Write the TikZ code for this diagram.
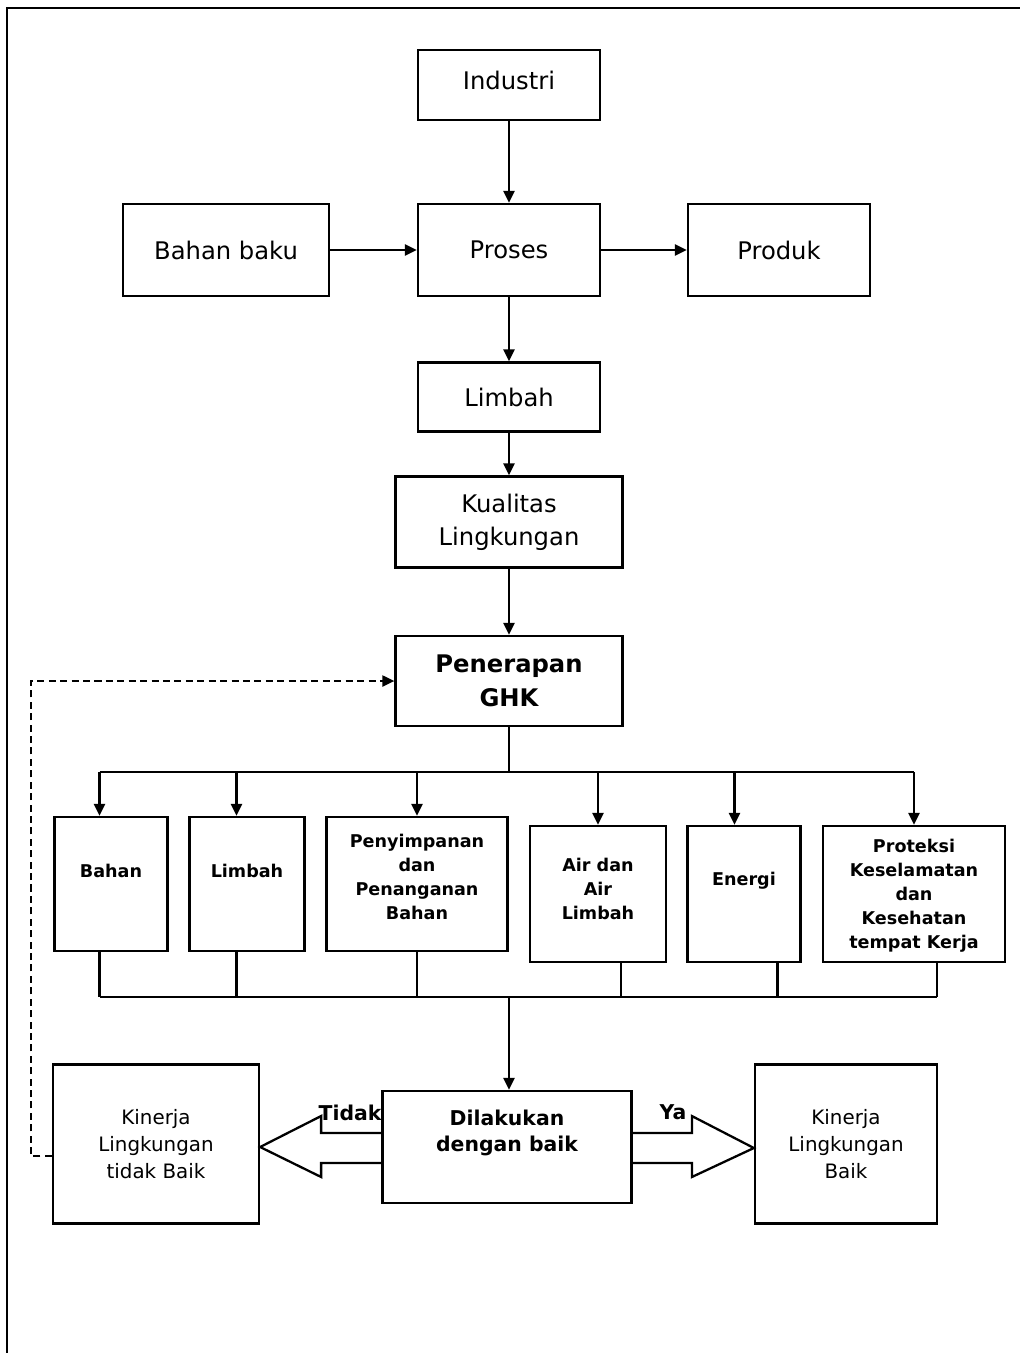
\documentclass[tikz,border=0pt]{standalone}
\usepackage{fontspec}
\setmainfont{DejaVu Sans}
\usetikzlibrary{arrows.meta}
\tikzset{
  >={Triangle[length=2.4mm,width=2.2mm]},
  kotak/.style={draw,line width=1.3pt,align=center,inner sep=2pt},
  besar/.style={kotak,font=\fontsize{13.8}{19}\selectfont},
  aspek/.style={kotak,font=\fontsize{10}{13.7}\selectfont\bfseries},
  kinerja/.style={kotak,font=\fontsize{11.3}{15.4}\selectfont,minimum height=3.18cm},
  alur/.style={->,line width=1.3pt},
  garis/.style={line width=1.3pt},
  balik/.style={->,line width=1.2pt,dash pattern=on 4pt off 2.5pt},
  ket/.style={font=\fontsize{11.6}{14.8}\selectfont\bfseries},
}

\begin{document}
\begin{tikzpicture}[x=0.02cm,y=-0.02cm]
\useasboundingbox (0,0) rectangle (1020,1353);
% frame of the page
\draw[line width=1pt] (7,1353) -- (7,8) -- (1020,8);

% ================= PROSES INDUSTRI =================
\node[besar,minimum width=3.64cm,minimum height=1.4cm,text depth=0.2cm] (ind) at (509,85) {Industri};
\node[besar,minimum width=4.12cm,minimum height=1.84cm] (baku) at (226,250) {Bahan baku};
\node[besar,minimum width=3.64cm,minimum height=1.84cm] (proses) at (509,250) {Proses};
\node[besar,minimum width=3.64cm,minimum height=1.84cm] (produk) at (779,250) {Produk};
\node[besar,minimum width=3.64cm,minimum height=1.38cm] (limbah) at (509,397) {Limbah};
\node[besar,minimum width=4.54cm,minimum height=1.82cm] (kualitas) at (509,522) {Kualitas\\Lingkungan};
\node[besar,font=\fontsize{13.8}{19}\selectfont\bfseries,minimum width=4.54cm,minimum height=1.8cm] (ghk) at (509,681) {Penerapan\\GHK};

\draw[alur] (ind) -- (proses);
\draw[alur] (baku) -- (proses);
\draw[alur] (proses) -- (produk);
\draw[alur] (proses) -- (limbah);
\draw[alur] (limbah) -- (kualitas);
\draw[alur] (kualitas) -- (ghk);

% ================= ASPEK GHK =================
\node[aspek,minimum width=2.26cm,minimum height=2.68cm,text depth=0.52cm] (bahan) at (111,884) {Bahan};
\node[aspek,minimum width=2.3cm,minimum height=2.68cm,text depth=0.52cm] (limbah2) at (247,884) {Limbah};
\node[aspek,minimum width=3.62cm,minimum height=2.68cm,text depth=0.28cm] (simpan) at (417,884) {Penyimpanan\\dan\\Penanganan\\Bahan};
\node[aspek,minimum width=2.72cm,minimum height=2.72cm,text depth=0.2cm] (air) at (598,894) {Air dan\\Air\\Limbah};
\node[aspek,minimum width=2.26cm,minimum height=2.72cm,text depth=0.6cm] (energi) at (744,894) {Energi};
\node[aspek,minimum width=3.64cm,minimum height=2.72cm,text depth=0cm] (proteksi) at (914,894) {Proteksi\\Keselamatan\\dan\\Kesehatan\\tempat Kerja};

\coordinate (atas) at (509,772);
\draw[garis] (ghk.south) -- (atas);
\draw[garis] ([xshift=-0.23cm]bahan.north |- atas) -- (proteksi.north |- atas);
\foreach \n/\dx in {bahan/-0.23,limbah2/-0.21,simpan/0,air/0,energi/-0.19,proteksi/0}
  \draw[alur] ([xshift=\dx cm]\n.north |- atas) -- ([xshift=\dx cm]\n.north);

\coordinate (bawah) at (509,997);
\foreach \n/\dx in {bahan/-0.23,limbah2/-0.21,simpan/0,air/0.46,energi/0.67,proteksi/0.46}
  \draw[garis] ([xshift=\dx cm]\n.south) -- ([xshift=\dx cm]\n.south |- bawah);
\draw[garis] ([xshift=-0.23cm]bahan.south |- bawah) -- ([xshift=0.46cm]proteksi.south |- bawah);

% ================= KEPUTUSAN =================
\node[kotak,ket,minimum width=4.98cm,minimum height=2.24cm,text depth=0.66cm] (dilakukan) at (507,1147) {Dilakukan\\dengan baik};
\draw[alur] (bawah) -- (bawah |- dilakukan.north);

\node[kinerja,minimum width=4.12cm] (tidakbaik) at (156,1144) {Kinerja\\Lingkungan\\tidak Baik};
\node[kinerja,minimum width=3.64cm] (baik) at (846,1144) {Kinerja\\Lingkungan\\Baik};

% block arrows out of the decision box
\draw[garis,line join=miter] ([yshift=0.28cm]dilakukan.west) -| ([xshift=1.22cm,yshift=0.56cm]tidakbaik.east)
   -- ([yshift=-0.06cm]tidakbaik.east) -- ([xshift=1.22cm,yshift=-0.66cm]tidakbaik.east) |- ([yshift=-0.32cm]dilakukan.west);
\draw[garis,line join=miter] ([yshift=0.28cm]dilakukan.east) -| ([xshift=-1.24cm,yshift=0.56cm]baik.west)
   -- ([yshift=-0.08cm]baik.west) -- ([xshift=-1.24cm,yshift=-0.66cm]baik.west) |- ([yshift=-0.32cm]dilakukan.east);
\node[ket] (tidak) at (350,1113) {Tidak};
\node[ket] (ya) at (673,1112) {Ya};

% umpan balik
\draw[balik] ([yshift=-0.24cm]tidakbaik.west) -- ++(-0.42cm,0) |- (ghk.west);

\end{tikzpicture}
\end{document}
